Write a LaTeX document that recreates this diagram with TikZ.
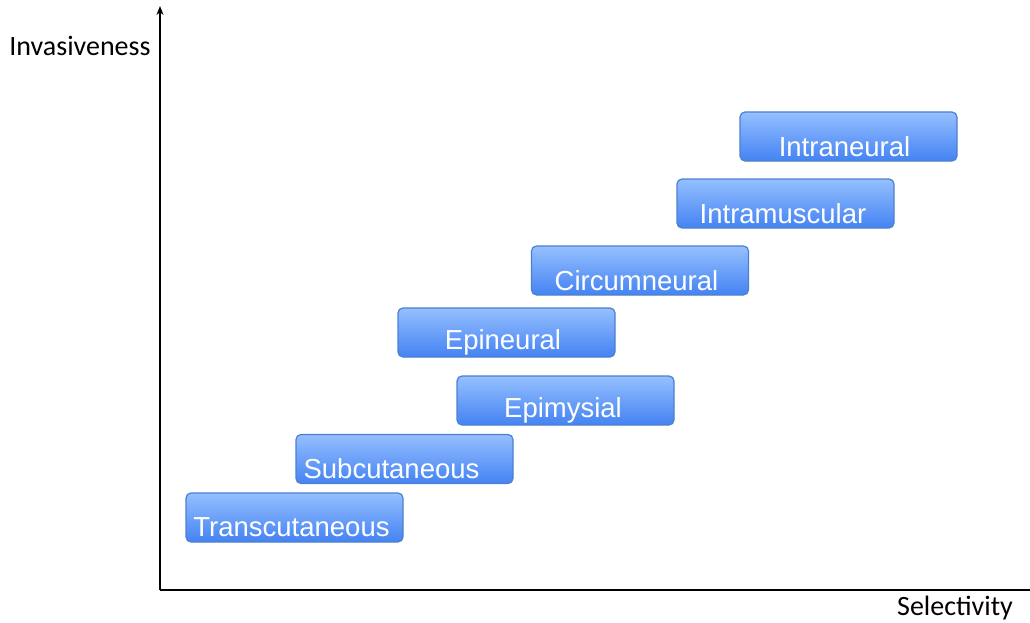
\documentclass[tikz,border=0pt]{standalone}
\usepackage{fontspec}
\setmainfont{Liberation Sans}
\newfontfamily\calib{Carlito}
\usetikzlibrary{arrows.meta}
\definecolor{boxtop}{HTML}{95BFFF}
\definecolor{boxbot}{HTML}{4483F3}
\definecolor{boxedge}{HTML}{4C80CF}
\tikzset{
  bar/.style={draw=boxedge, line width=1.2pt, rounded corners=5pt, top color=boxtop, bottom color=boxbot,
    minimum width=217pt, minimum height=49pt, inner sep=0pt},
  bartext/.style={text=white, font=\fontsize{27.5}{27.5}\selectfont, anchor=center},
  axis/.style={line width=1.6pt},
  axlabel/.style={font=\calib\fontsize{28}{28}\selectfont}
}
\begin{document}
\begin{tikzpicture}[x=1pt,y=-1pt]
\useasboundingbox (0,0) rectangle (1030,623);
\coordinate (O) at (160,590);
\coordinate (Ytop) at (160,6);
\coordinate (Xend) at (1030,590);
\draw[axis,-{Stealth[length=9pt,width=7pt]}] (O) -- (Ytop);
\draw[axis] (O) -- (Xend);
\node[axlabel] (ylab) at (80,46) {Invasiveness};
\node[axlabel] (xlab) at (955,608) {Selectivity};
\foreach \n/\x/\y/\dx/\t in {
  intra/848.5/136.5/-4/Intraneural,
  musc/785.5/203.5/-2.5/Intramuscular,
  circ/640/270.5/-3.5/Circumneural,
  epin/506.5/332.5/-3.5/Epineural,
  epim/565.5/400.5/-2.5/Epimysial,
  subc/404.5/459/-13/Subcutaneous,
  trans/294.5/517.5/-3/Transcutaneous}{
  \node[bar] (\n) at (\x,\y) {};
  \node[bartext] (\n-t) at ([xshift=\dx pt,yshift=-10pt]\n.center) {\t};
}
\end{tikzpicture}
\end{document}
